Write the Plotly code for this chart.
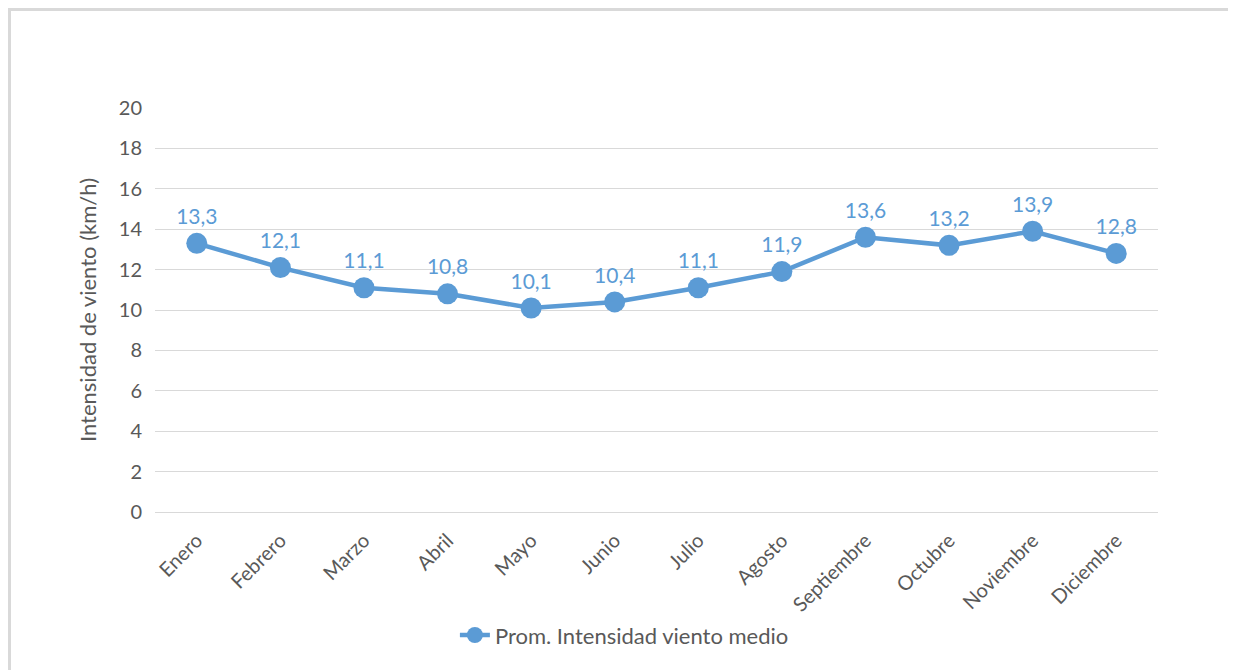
import plotly.graph_objects as go

meses = ["Enero", "Febrero", "Marzo", "Abril", "Mayo", "Junio", "Julio",
         "Agosto", "Septiembre", "Octubre", "Noviembre", "Diciembre"]
viento = [13.3, 12.1, 11.1, 10.8, 10.1, 10.4, 11.1, 11.9, 13.6, 13.2, 13.9, 12.8]
etiquetas = [f"{v:.1f}".replace(".", ",") for v in viento]

# the page body adds an 8px offset, so the figure origin sits at (8, 8)
W, H = 1236, 670
L, R, T, B = 147, 86, 100, 166
pw, ph = W - L - R, H - T - B

azul = "#5b9bd5"
gris = "#595959"
FONT = "Lato, Open Sans, sans-serif"

fig = go.Figure()
fig.add_trace(go.Scatter(
    x=meses, y=viento, mode="lines+markers+text",
    name="Prom. Intensidad viento medio",
    line=dict(color=azul, width=4.5),
    marker=dict(color=azul, size=21),
    text=etiquetas, textposition="top center",
    textfont=dict(color=azul, size=21, family=FONT),
    cliponaxis=False,
))

# chart border (top and left edges)
bx0 = (1.5 - L) / pw
by = (H - B - 1.5) / ph
fig.add_shape(type="path", xref="paper", yref="paper",
              path=f"M {bx0} -1 L {bx0} {by} L 2 {by}",
              line=dict(color="#d9d9d9", width=3))

fig.update_layout(
    width=W, height=H,
    margin=dict(l=L, r=R, t=T, b=B),
    paper_bgcolor="white", plot_bgcolor="white",
    font=dict(family=FONT, color=gris, size=20),
    showlegend=True,
    legend=dict(orientation="h", x=0.468, xanchor="center", y=-0.305,
                yanchor="middle", font=dict(size=22, color=gris)),
    xaxis=dict(range=[-0.5, 11.5], tickangle=-45, showgrid=False,
               showline=True, linecolor="#d9d9d9", linewidth=1,
               ticks="", ticklabelstandoff=8, tickfont=dict(size=20, color=gris)),
    yaxis=dict(range=[0, 20], dtick=2, showgrid=True, gridcolor="#d9d9d9",
               gridwidth=1, zeroline=False, ticks="", ticklabelstandoff=12,
               title=dict(text="Intensidad de viento (km/h)",
                          font=dict(size=22, color=gris), standoff=16),
               tickfont=dict(size=20, color=gris)),
)

fig.write_html("out.html")
